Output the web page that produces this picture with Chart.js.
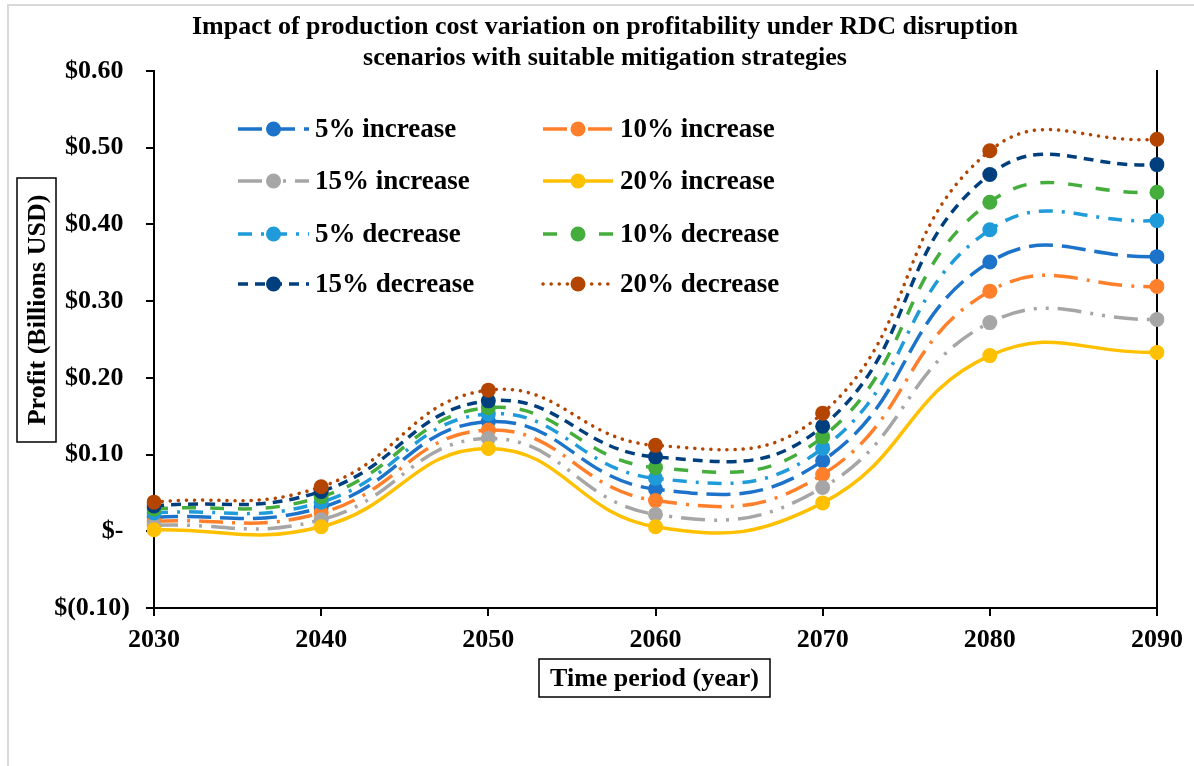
<!DOCTYPE html>
<html>
<head>
<meta charset="utf-8">
<script src="https://cdn.jsdelivr.net/npm/chart.js@4.4.1/dist/chart.umd.min.js"></script>
<style>
  body { margin: 0; background: #fff; }
  #wrap { position: relative; width: 1194px; height: 766px; }
</style>
</head>
<body>
<div id="wrap"><canvas id="profitChart"></canvas></div>
<script>
// ── Data ─────────────────────────────────────────────────────────────────────
const years = ['2030', '2040', '2050', '2060', '2070', '2080', '2090'];

const inc5  = [0.018, 0.031, 0.143, 0.055, 0.092, 0.351, 0.358];
const inc10 = [0.013, 0.024, 0.132, 0.040, 0.074, 0.313, 0.319];
const inc15 = [0.008, 0.015, 0.121, 0.022, 0.057, 0.272, 0.276];
const inc20 = [0.002, 0.006, 0.108, 0.006, 0.037, 0.229, 0.233];
const dec5  = [0.024, 0.038, 0.153, 0.069, 0.108, 0.393, 0.405];
const dec10 = [0.029, 0.045, 0.161, 0.083, 0.123, 0.429, 0.442];
const dec15 = [0.033, 0.052, 0.170, 0.097, 0.137, 0.465, 0.478];
const dec20 = [0.038, 0.058, 0.184, 0.112, 0.154, 0.496, 0.511];

const seriesLabels = ['5% increase', '10% increase', '15% increase', '20% increase',
                      '5% decrease', '10% decrease', '15% decrease', '20% decrease'];
const yTicks = [-0.1, 0, 0.1, 0.2, 0.3, 0.4, 0.5, 0.6];

const chartTitle = ['Impact of production cost variation on profitability under RDC disruption',
                    'scenarios with suitable mitigation strategies'];
const xTitle = 'Time period (year)';
const yTitle = 'Profit (Billions USD)';

// ── Styles ───────────────────────────────────────────────────────────────────
const SERIF = '"Liberation Serif", "Times New Roman", serif';
const styles = [
    { color: '#1C73C9', dash: [24, 9] },
    { color: '#FF7F2A', dash: [24, 9, 3, 9] },
    { color: '#A6A6A6', dash: [24, 9, 3, 9, 3, 9] },
    { color: '#FFC000', dash: [] },
    { color: '#1E9BD8', dash: [14, 9, 3, 9] },
    { color: '#44AD3C', dash: [14, 14] },
    { color: '#003F7D', dash: [10, 7] },
    { color: '#B34500', dash: [0.1, 8], cap: 'round' }
];
const seriesData = [inc5, inc10, inc15, inc20, dec5, dec10, dec15, dec20];

const datasets = seriesData.map((d, i) => ({
    label: seriesLabels[i],
    data: d,
    borderColor: styles[i].color,
    backgroundColor: styles[i].color,
    borderDash: styles[i].dash,
    borderCapStyle: styles[i].cap || 'butt',
    borderWidth: 3.5,
    pointRadius: 7.5,
    pointHoverRadius: 7.5,
    pointBorderWidth: 0,
    tension: 0.45,
    order: 8 - i
}));

// ── Extra drawing: frame, title, axis title boxes, legend ───────────────────
const decorPlugin = {
    id: 'decor',
    beforeDraw(chart) {
        const ctx = chart.ctx;
        ctx.save();
        ctx.fillStyle = '#fff';
        ctx.fillRect(0, 0, chart.width, chart.height);
        ctx.strokeStyle = '#D9D9D9';
        ctx.lineWidth = 2;
        ctx.beginPath();
        ctx.moveTo(8, 766); ctx.lineTo(8, 5); ctx.lineTo(1194, 5);
        ctx.stroke();
        ctx.restore();
    },
    afterDraw(chart) {
        const ctx = chart.ctx;
        ctx.save();
        ctx.fillStyle = '#000';
        ctx.textAlign = 'center';
        ctx.textBaseline = 'middle';

        // title
        ctx.font = 'bold 26px ' + SERIF;
        ctx.fillText(chartTitle[0], 605, 27);
        ctx.fillText(chartTitle[1], 605, 58);

        // axis titles in boxes
        ctx.font = 'bold 26px ' + SERIF;
        ctx.strokeStyle = '#000';
        ctx.lineWidth = 1.5;
        ctx.strokeRect(539, 659, 231, 38);
        ctx.fillText(xTitle, 654.5, 679);

        ctx.strokeRect(17, 178, 39, 264);
        ctx.save();
        ctx.translate(37, 310);
        ctx.rotate(-Math.PI / 2);
        ctx.fillText(yTitle, 0, 1);
        ctx.restore();

        // legend, two columns
        const cols = [{ x0: 238, x1: 309, tx: 315 }, { x0: 543, x1: 613, tx: 620 }];
        const rows = [129, 181, 234, 284];
        ctx.font = 'bold 27px ' + SERIF;
        ctx.textAlign = 'left';
        chart.data.datasets.forEach((ds, i) => {
            const c = cols[i % 2], y = rows[Math.floor(i / 2)];
            ctx.save();
            ctx.strokeStyle = ds.borderColor;
            ctx.lineWidth = ds.borderWidth;
            ctx.lineCap = ds.borderCapStyle;
            ctx.setLineDash(ds.borderDash);
            ctx.beginPath();
            ctx.moveTo(c.x0, y); ctx.lineTo(c.x1, y);
            ctx.stroke();
            ctx.setLineDash([]);
            ctx.fillStyle = ds.backgroundColor;
            ctx.beginPath();
            ctx.arc((c.x0 + c.x1) / 2, y, 7.5, 0, Math.PI * 2);
            ctx.fill();
            ctx.restore();
            ctx.fillText(ds.label, c.tx, y + 1);
        });
        ctx.restore();
    }
};

const tickFont = { family: SERIF, size: 26, weight: 'bold' };

function moneyLabel(v) {
    if (Math.abs(v) < 1e-9) return '$- ';
    if (v < 0) return '$(' + Math.abs(v).toFixed(2) + ')';
    return '$' + v.toFixed(2) + ' ';
}

new Chart(document.getElementById('profitChart').getContext('2d'), {
    type: 'line',
    data: { labels: years, datasets: datasets },
    options: {
        responsive: true,
        maintainAspectRatio: false,
        animation: false,
        layout: { padding: { top: 71, left: 0, right: 0, bottom: 0 } },
        plugins: { legend: { display: false }, tooltip: { enabled: false }, title: { display: false } },
        scales: {
            x: {
                offset: false,
                grid: { drawOnChartArea: false, drawTicks: true, tickLength: 8, color: '#000', lineWidth: 2 },
                border: { display: true, color: '#000', width: 2 },
                ticks: { color: '#000', font: tickFont, padding: 9, maxRotation: 0 },
                afterFit(scale) { scale.height = 158; }
            },
            y: {
                min: -0.1,
                max: 0.6,
                afterBuildTicks(scale) { scale.ticks = yTicks.map(v => ({ value: v })); },
                grid: { drawOnChartArea: false, drawTicks: true, tickLength: 8, color: '#000', lineWidth: 2 },
                border: { display: true, color: '#000', width: 2 },
                ticks: { color: '#000', font: tickFont, padding: 16, callback: v => moneyLabel(v) },
                afterFit(scale) { scale.width = 154; }
            },
            y2: {
                position: 'right',
                min: -0.1,
                max: 0.6,
                grid: { display: false },
                border: { display: true, color: '#000', width: 2 },
                ticks: { display: false },
                afterFit(scale) { scale.width = 37; }
            }
        }
    },
    plugins: [decorPlugin]
});
</script>
</body>
</html>
